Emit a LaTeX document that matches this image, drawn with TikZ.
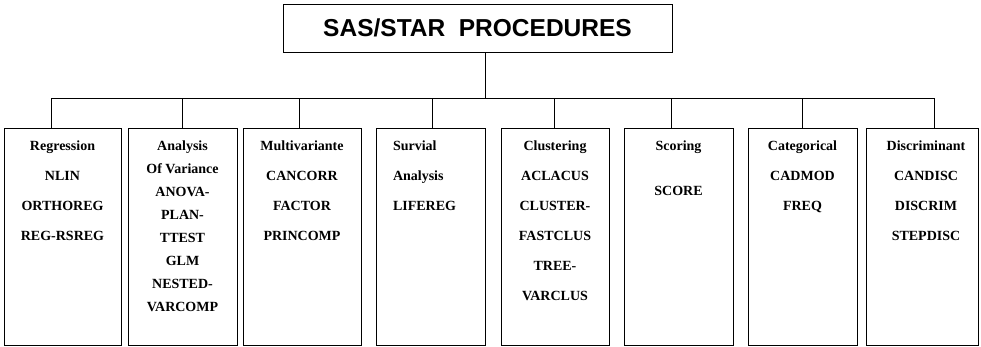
\documentclass[tikz,border=0pt]{standalone}
\usepackage{fontspec}
\setmainfont{Liberation Serif}
\newfontfamily\titlefont{Liberation Sans}
\usetikzlibrary{calc}

\begin{document}
\begin{tikzpicture}[x=1pt,y=1pt,line width=1pt,
  procbox/.style={draw,minimum height=217pt,inner sep=0pt},
  proclist/.style={anchor=north,align=center,inner sep=0pt,font=\bfseries\fontsize{14}{30}\selectfont}]
\useasboundingbox (0,0) rectangle (981,-346);

\node[draw,minimum width=389pt,minimum height=48pt,inner sep=0pt,
  font=\titlefont\bfseries\fontsize{24.5}{28}\selectfont] (title) at (477.5,-28) {SAS/STAR\ \ PROCEDURES};

% the eight groups
\node[procbox,minimum width=117pt] (regr) at (62.5,-236.5) {};
\node[procbox,minimum width=109pt] (anova) at (182.5,-236.5) {};
\node[procbox,minimum width=118pt] (multi) at (302,-236.5) {};
\node[procbox,minimum width=109pt] (surv) at (430.5,-236.5) {};
\node[procbox,minimum width=108pt] (clus) at (555,-236.5) {};
\node[procbox,minimum width=109pt] (score) at (678.5,-236.5) {};
\node[procbox,minimum width=109pt] (categ) at (802.5,-236.5) {};
\node[procbox,minimum width=112pt] (discr) at (922,-236.5) {};

\node[proclist] (regrtxt) at ($(regr.north)+(0,-13)$) {Regression\\NLIN\\ORTHOREG\\REG-RSREG};
\node[proclist,font=\bfseries\fontsize{14}{23}\selectfont] (anovatxt) at ($(anova.north)+(0,-13)$)
  {Analysis\\Of Variance\\ANOVA-\\PLAN-\\TTEST\\GLM\\NESTED-\\VARCOMP};
\node[proclist] (multitxt) at ($(multi.north)+(0,-13)$) {Multivariante\\CANCORR\\FACTOR\\PRINCOMP};
\node[proclist,anchor=north west,align=left] (survtxt) at ($(surv.north west)+(17,-13)$) {Survial\\Analysis\\LIFEREG};
\node[proclist] (clustxt) at ($(clus.north)+(0,-13)$) {Clustering\\ACLACUS\\CLUSTER-\\FASTCLUS\\TREE-\\VARCLUS};
\node[proclist] (scoretxt) at ($(score.north)+(0,-13)$) {Scoring\\[15pt]SCORE};
\node[proclist] (categtxt) at ($(categ.north)+(0,-13)$) {Categorical\\CADMOD\\FREQ};
\node[proclist] (discrtxt) at ($(discr.north)+(4,-13)$) {Discriminant\\CANDISC\\DISCRIM\\STEPDISC};

% connectors
\coordinate (bus) at (485,-98);
\coordinate (busL) at (51,-98);
\coordinate (busR) at (934,-98);
\draw (title.south -| bus) -- (bus);
\draw (busL) -- (busR);
\foreach \b/\x in {regr/51,anova/182,multi/299,surv/432,clus/554,score/671,categ/802,discr/934}
  \draw (\b.north -| \x,0) -- (\x,-98);
\end{tikzpicture}
\end{document}
